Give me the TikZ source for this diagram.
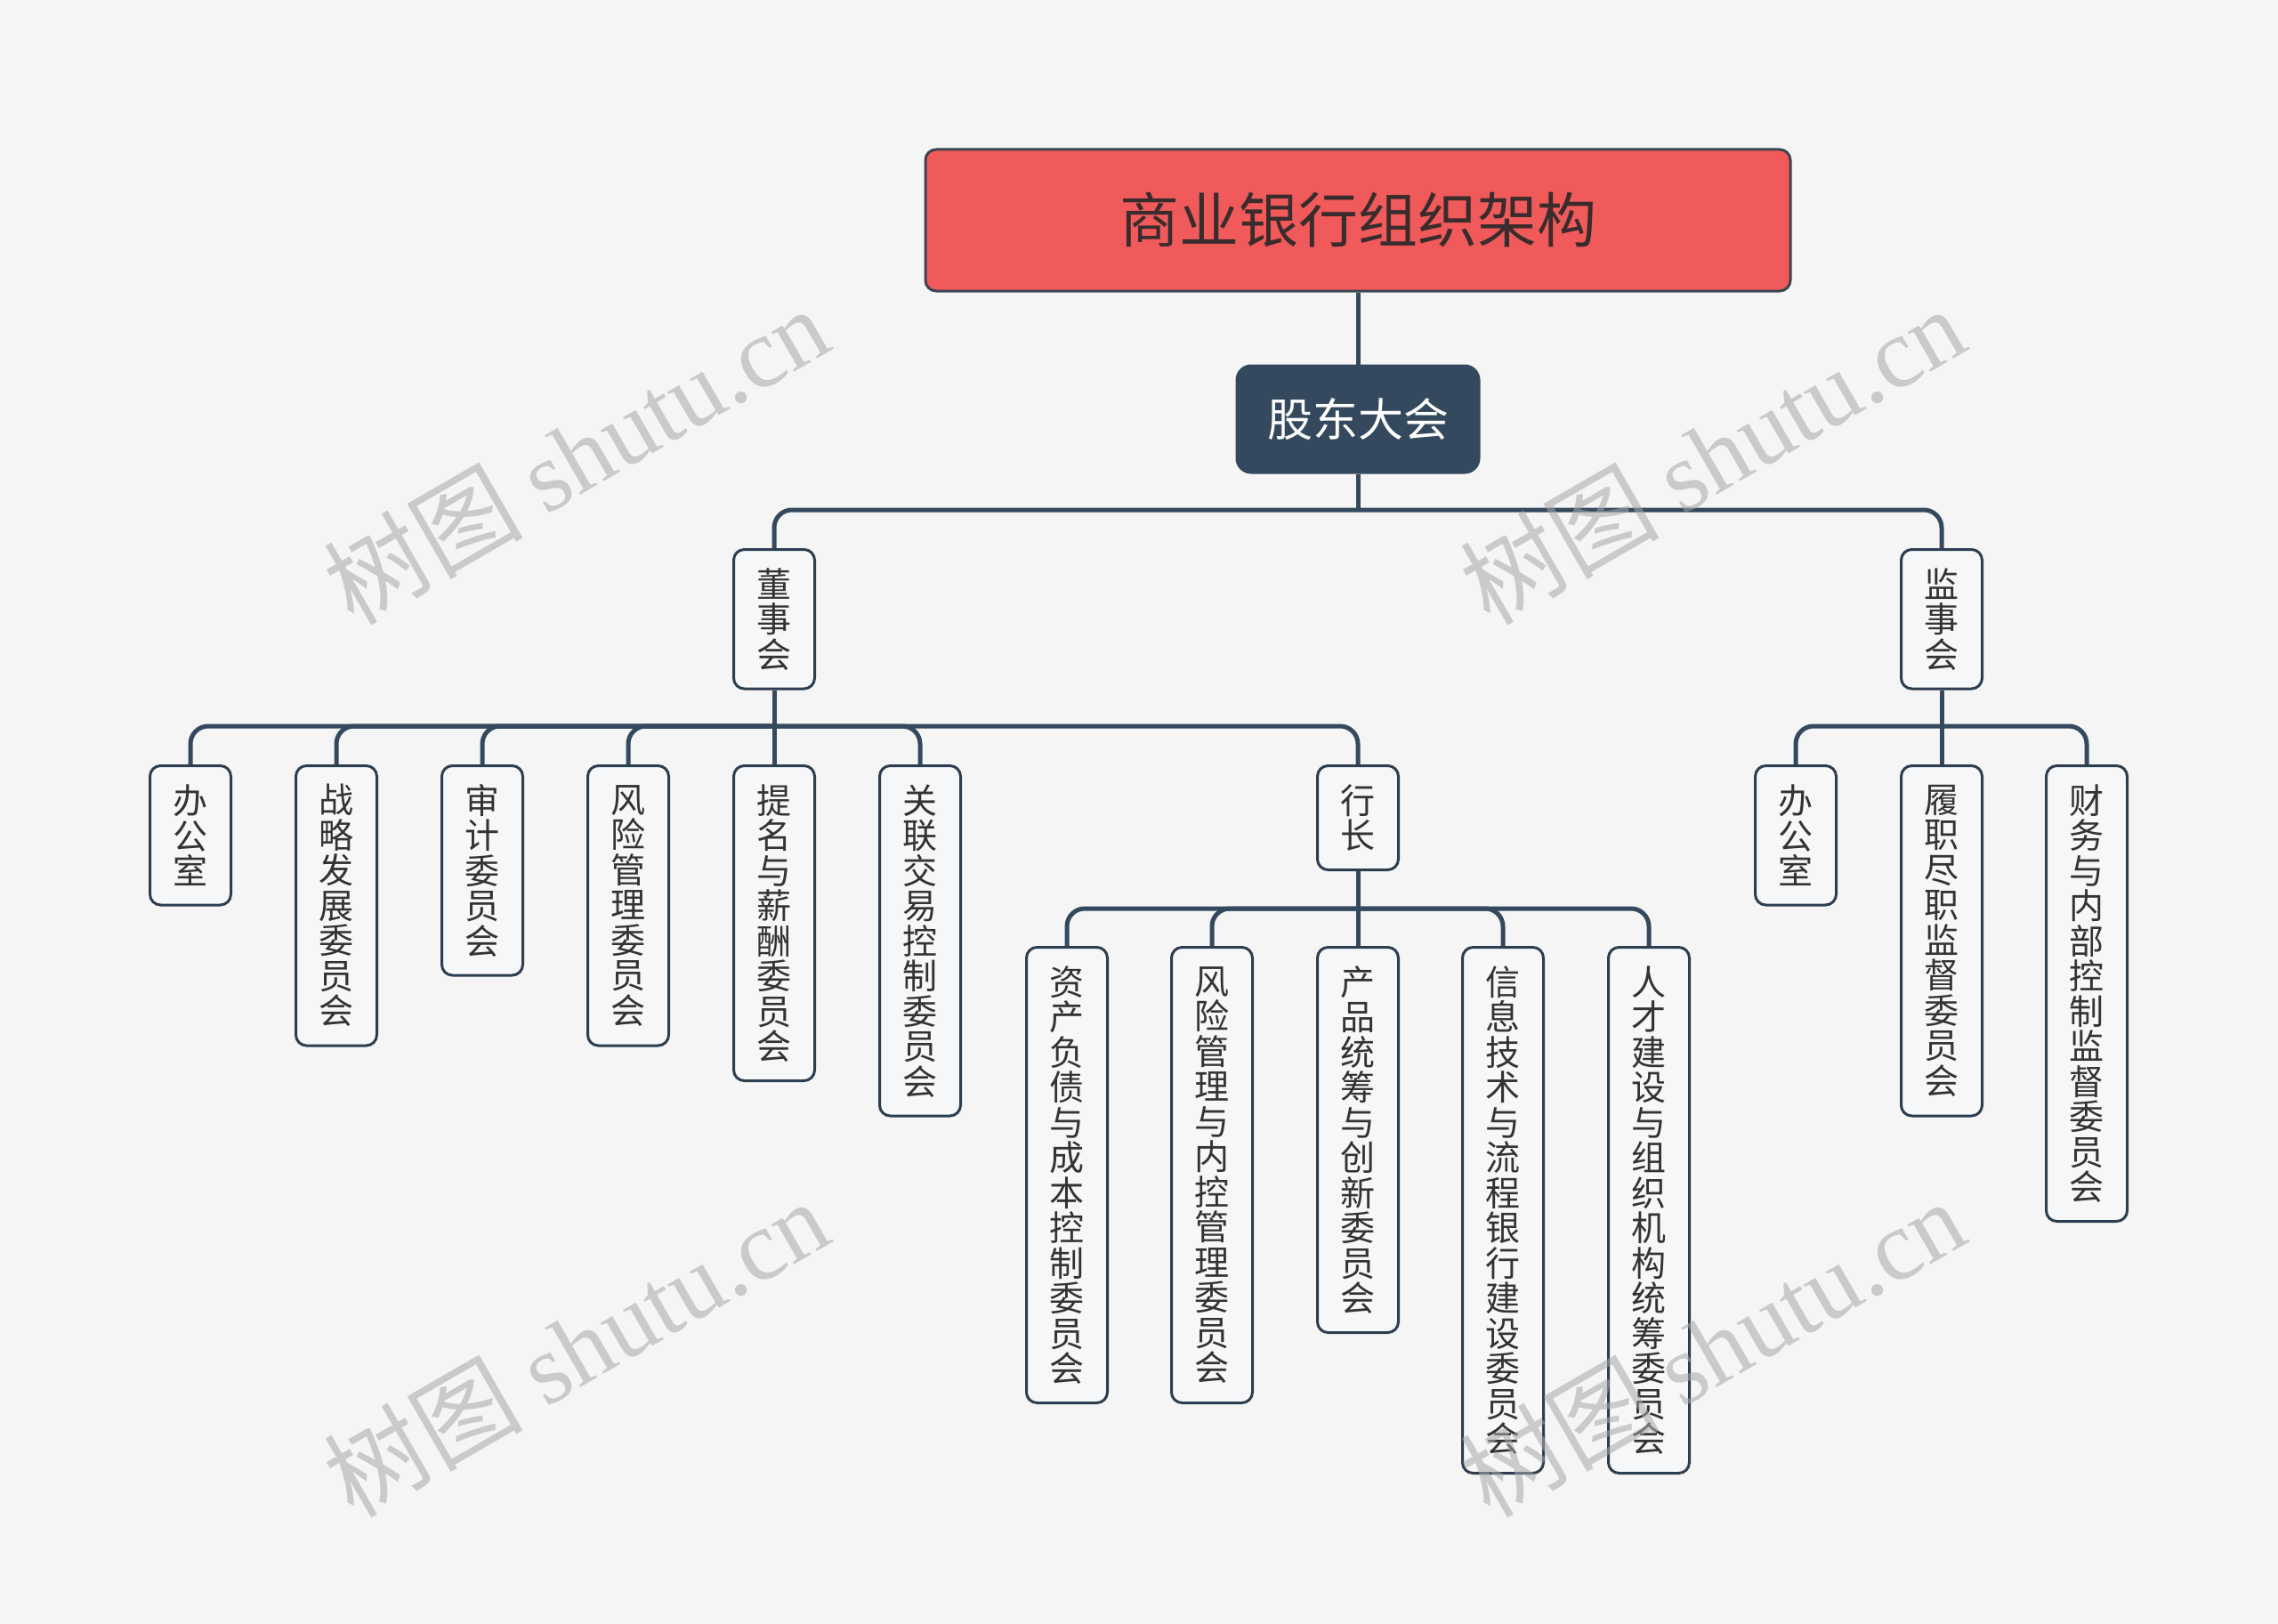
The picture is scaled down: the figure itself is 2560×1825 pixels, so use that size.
\documentclass[tikz,border=0pt]{standalone}
\usepackage{fontspec}
\setmainfont{Noto Sans CJK SC}
\newfontfamily\wmserif{Liberation Serif}
\newfontfamily\wmcjk{Noto Sans CJK SC}
\definecolor{bg}{HTML}{F5F5F5}
\definecolor{titlefill}{HTML}{F05A5A}
\definecolor{titleline}{HTML}{3C4452}
\definecolor{titletext}{HTML}{3A2C2C}
\definecolor{navy}{HTML}{34495E}
\definecolor{boxline}{HTML}{2C3E50}
\definecolor{leaffill}{HTML}{F6F7F9}
\definecolor{txt}{HTML}{333333}
\definecolor{wm}{HTML}{A8A8A8}
\tikzset{
  conn/.style={draw=navy, line width=2.5pt, rounded corners=10pt},
  titlebox/.style={draw=titleline, line width=1.5pt, fill=titlefill, rounded corners=6pt,
    minimum width=486pt, minimum height=79.5pt, inner sep=0pt, text=titletext,
    font=\fontsize{33.5pt}{38pt}\selectfont},
  rootbox/.style={draw=navy, line width=1.5pt, fill=navy, rounded corners=8pt,
    minimum width=136pt, minimum height=60pt, inner sep=0pt, text=white,
    font=\fontsize{25.5pt}{30pt}\selectfont},
  leafbox/.style={draw=boxline, line width=1.5pt, fill=leaffill, rounded corners=6pt,
    minimum width=45.5pt, inner sep=0pt, anchor=north, align=center, text=txt,
    font=\fontsize{19.5pt}{19.75pt}\selectfont},
  wmark/.style={text=wm, text opacity=0.55, rotate=30, inner sep=0pt,
    font=\fontsize{56pt}{60pt}\selectfont}
}
\begin{document}
\begin{tikzpicture}[x=0.5pt,y=-0.5pt]
\useasboundingbox (0,0) rectangle (2560,1825);
\fill[bg] (0,0) rectangle (2560,1825);

% main nodes
\node[titlebox] (title) at (1526,247.5) {商业银行组织架构};
\node[rootbox] (gd) at (1526,471) {股东大会};

\node[leafbox, minimum height=78.25pt] (dsh) at (870,616) {董\\事\\会};
\node[leafbox, minimum height=78.25pt] (jsh) at (2182,616) {监\\事\\会};

% board children
\node[leafbox, minimum height=78.25pt] (d1) at (214,859) {办\\公\\室};
\node[leafbox, minimum height=157.25pt] (d2) at (378,859) {战\\略\\发\\展\\委\\员\\会};
\node[leafbox, minimum height=117.75pt] (d3) at (542,859) {审\\计\\委\\员\\会};
\node[leafbox, minimum height=157.25pt] (d4) at (706,859) {风\\险\\管\\理\\委\\员\\会};
\node[leafbox, minimum height=177pt] (d5) at (870,859) {提\\名\\与\\薪\\酬\\委\\员\\会};
\node[leafbox, minimum height=196.75pt] (d6) at (1034,859) {关\\联\\交\\易\\控\\制\\委\\员\\会};
\node[leafbox, minimum height=58.5pt] (hz) at (1526,859) {行\\长};

% president children
\node[leafbox, minimum height=256pt] (h1) at (1199,1063) {资\\产\\负\\债\\与\\成\\本\\控\\制\\委\\员\\会};
\node[leafbox, minimum height=256pt] (h2) at (1362,1063) {风\\险\\管\\理\\与\\内\\控\\管\\理\\委\\员\\会};
\node[leafbox, minimum height=216.5pt] (h3) at (1526,1063) {产\\品\\统\\筹\\与\\创\\新\\委\\员\\会};
\node[leafbox, minimum height=295.5pt] (h4) at (1689,1063) {信\\息\\技\\术\\与\\流\\程\\银\\行\\建\\设\\委\\员\\会};
\node[leafbox, minimum height=295.5pt] (h5) at (1853,1063) {人\\才\\建\\设\\与\\组\\织\\机\\构\\统\\筹\\委\\员\\会};

% supervisory children
\node[leafbox, minimum height=78.25pt] (j1) at (2018,859) {办\\公\\室};
\node[leafbox, minimum height=196.75pt] (j2) at (2182,859) {履\\职\\尽\\职\\监\\督\\委\\员\\会};
\node[leafbox, minimum height=256pt] (j3) at (2345,859) {财\\务\\与\\内\\部\\控\\制\\监\\督\\委\\员\\会};

% bus coordinates
\coordinate (b1) at (1526,573);
\coordinate (b2) at (870,816);
\coordinate (b3) at (2182,816);
\coordinate (b4) at (1526,1021);

% connectors
\draw[conn] (title.south) -- (gd.north);
\draw[conn] (gd.south) -- (b1);
\foreach \c in {dsh,jsh} \draw[conn] (b1) -| (\c.north);
\draw[conn] (dsh.south) -- (b2);
\foreach \c in {d1,d2,d3,d4,d5,d6,hz} \draw[conn] (b2) -| (\c.north);
\draw[conn] (jsh.south) -- (b3);
\foreach \c in {j1,j2,j3} \draw[conn] (b3) -| (\c.north);
\draw[conn] (hz.south) -- (b4);
\foreach \c in {h1,h2,h3,h4,h5} \draw[conn] (b4) -| (\c.north);

% watermarks
\node[wmark] (w1) at (647,511) {\wmcjk 树图 \wmserif shutu.cn};
\node[wmark] (w2) at (1924,511) {\wmcjk 树图 \wmserif shutu.cn};
\node[wmark] (w3) at (647,1514) {\wmcjk 树图 \wmserif shutu.cn};
\node[wmark] (w4) at (1924,1514) {\wmcjk 树图 \wmserif shutu.cn};
\end{tikzpicture}
\end{document}
